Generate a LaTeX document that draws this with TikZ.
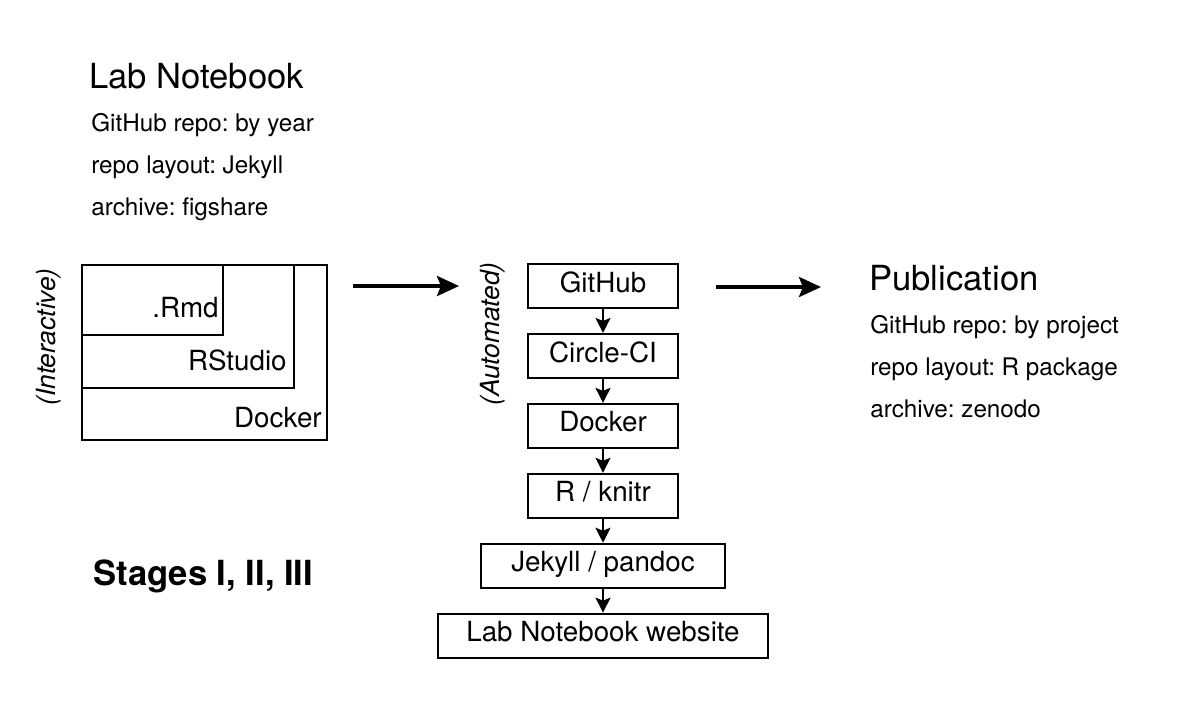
\documentclass[tikz,border=0pt]{standalone}
\usepackage{fontspec}
\setmainfont{TeX Gyre Heros}
\usepackage{tikz}
\usetikzlibrary{arrows.meta}
\usetikzlibrary{positioning}
\frenchspacing

\begin{document}
\begin{tikzpicture}[x=0.02cm, y=-0.02cm, node distance=0.48cm]
  \tikzstyle{box}=[rectangle, draw=black, line width=1.1pt, text centered, minimum height=0.88cm, text height=11.5pt, text depth=4.5pt, font=\fontsize{15.8}{18}\selectfont]
  \tikzstyle{nest}=[rectangle, draw=black, line width=1.1pt, anchor=north west, inner sep=0pt]
  \tikzstyle{lbl}=[inner sep=0pt, anchor=base east, font=\fontsize{15.8}{18}\selectfont]
  \tikzstyle{title}=[inner sep=0pt, anchor=base west, font=\fontsize{19.7}{24}\selectfont]
  \tikzstyle{info}=[inner sep=0pt, anchor=base west, font=\fontsize{13.8}{17}\selectfont]
  \tikzstyle{mode}=[inner sep=0pt, rotate=90, font=\fontsize{15}{18}\selectfont\itshape]
  \tikzstyle{bigarrow}=[line width=2.2pt, -{Stealth[length=0.44cm, width=0.4cm, inset=0.08cm]}]
  \tikzstyle{smallarrow}=[line width=1.1pt, -{Stealth[length=0.3cm, width=0.3cm, inset=0.06cm]}]
  \useasboundingbox (0,0) rectangle (1200,704);

  % lab notebook side
  \node (labnb) [title] at (89,88) {Lab Notebook};
  \node (labrepo) [info] at (91,131) {GitHub repo: by year};
  \node (lablayout) [info] at (91,173) {repo layout: Jekyll};
  \node (labarchive) [info] at (91,215) {archive: figshare};

  \node (dockerbox) [nest, minimum width=4.9cm, minimum height=3.5cm] at (81,264) {};
  \node (rstudiobox) [nest, minimum width=4.24cm, minimum height=2.46cm] at (81,264) {};
  \node (rmdbox) [nest, minimum width=2.82cm, minimum height=1.4cm] at (81,264) {};
  \node (rmd) [lbl] at (219,317) {.Rmd};
  \node (rstudio) [lbl] at (287,370) {RStudio};
  \node (dockerlbl) [lbl] at (322,427) {Docker};
  \node (interactive) [mode] at (49,337) {(Interactive)};

  \node (stages) [title, font=\fontsize{19.7}{24}\selectfont\bfseries] at (93,585) {Stages I, II, III};

  % build chain
  \node (automated) [mode] at (493,334) {(Automated)};
  \node (github) [box, minimum width=3cm] at (603,286) {GitHub};
  \node (circleci) [box, minimum width=3cm, below=of github] {Circle-CI};
  \node (docker) [box, minimum width=3cm, below=of circleci] {Docker};
  \node (knitr) [box, minimum width=3cm, below=of docker] {R / knitr};
  \node (jekyll) [box, minimum width=4.88cm, below=of knitr] {Jekyll / pandoc};
  \node (site) [box, minimum width=6.6cm, below=of jekyll] {Lab Notebook website};

  \draw[smallarrow] (github) -- (circleci);
  \draw[smallarrow] (circleci) -- (docker);
  \draw[smallarrow] (docker) -- (knitr);
  \draw[smallarrow] (knitr) -- (jekyll);
  \draw[smallarrow] (jekyll) -- (site);

  % publication side
  \node (pub) [title] at (869,290) {Publication};
  \node (pubrepo) [info] at (870,333) {GitHub repo: by project};
  \node (publayout) [info] at (870,375) {repo layout: R package};
  \node (pubarchive) [info] at (870,417) {archive: zenodo};

  \coordinate (labout) at (353,286);
  \coordinate (ciin) at (459,286);
  \coordinate (ciout) at (716,287);
  \coordinate (pubin) at (821,287);
  \draw[bigarrow] (labout) -- (ciin);
  \draw[bigarrow] (ciout) -- (pubin);
\end{tikzpicture}
\end{document}
